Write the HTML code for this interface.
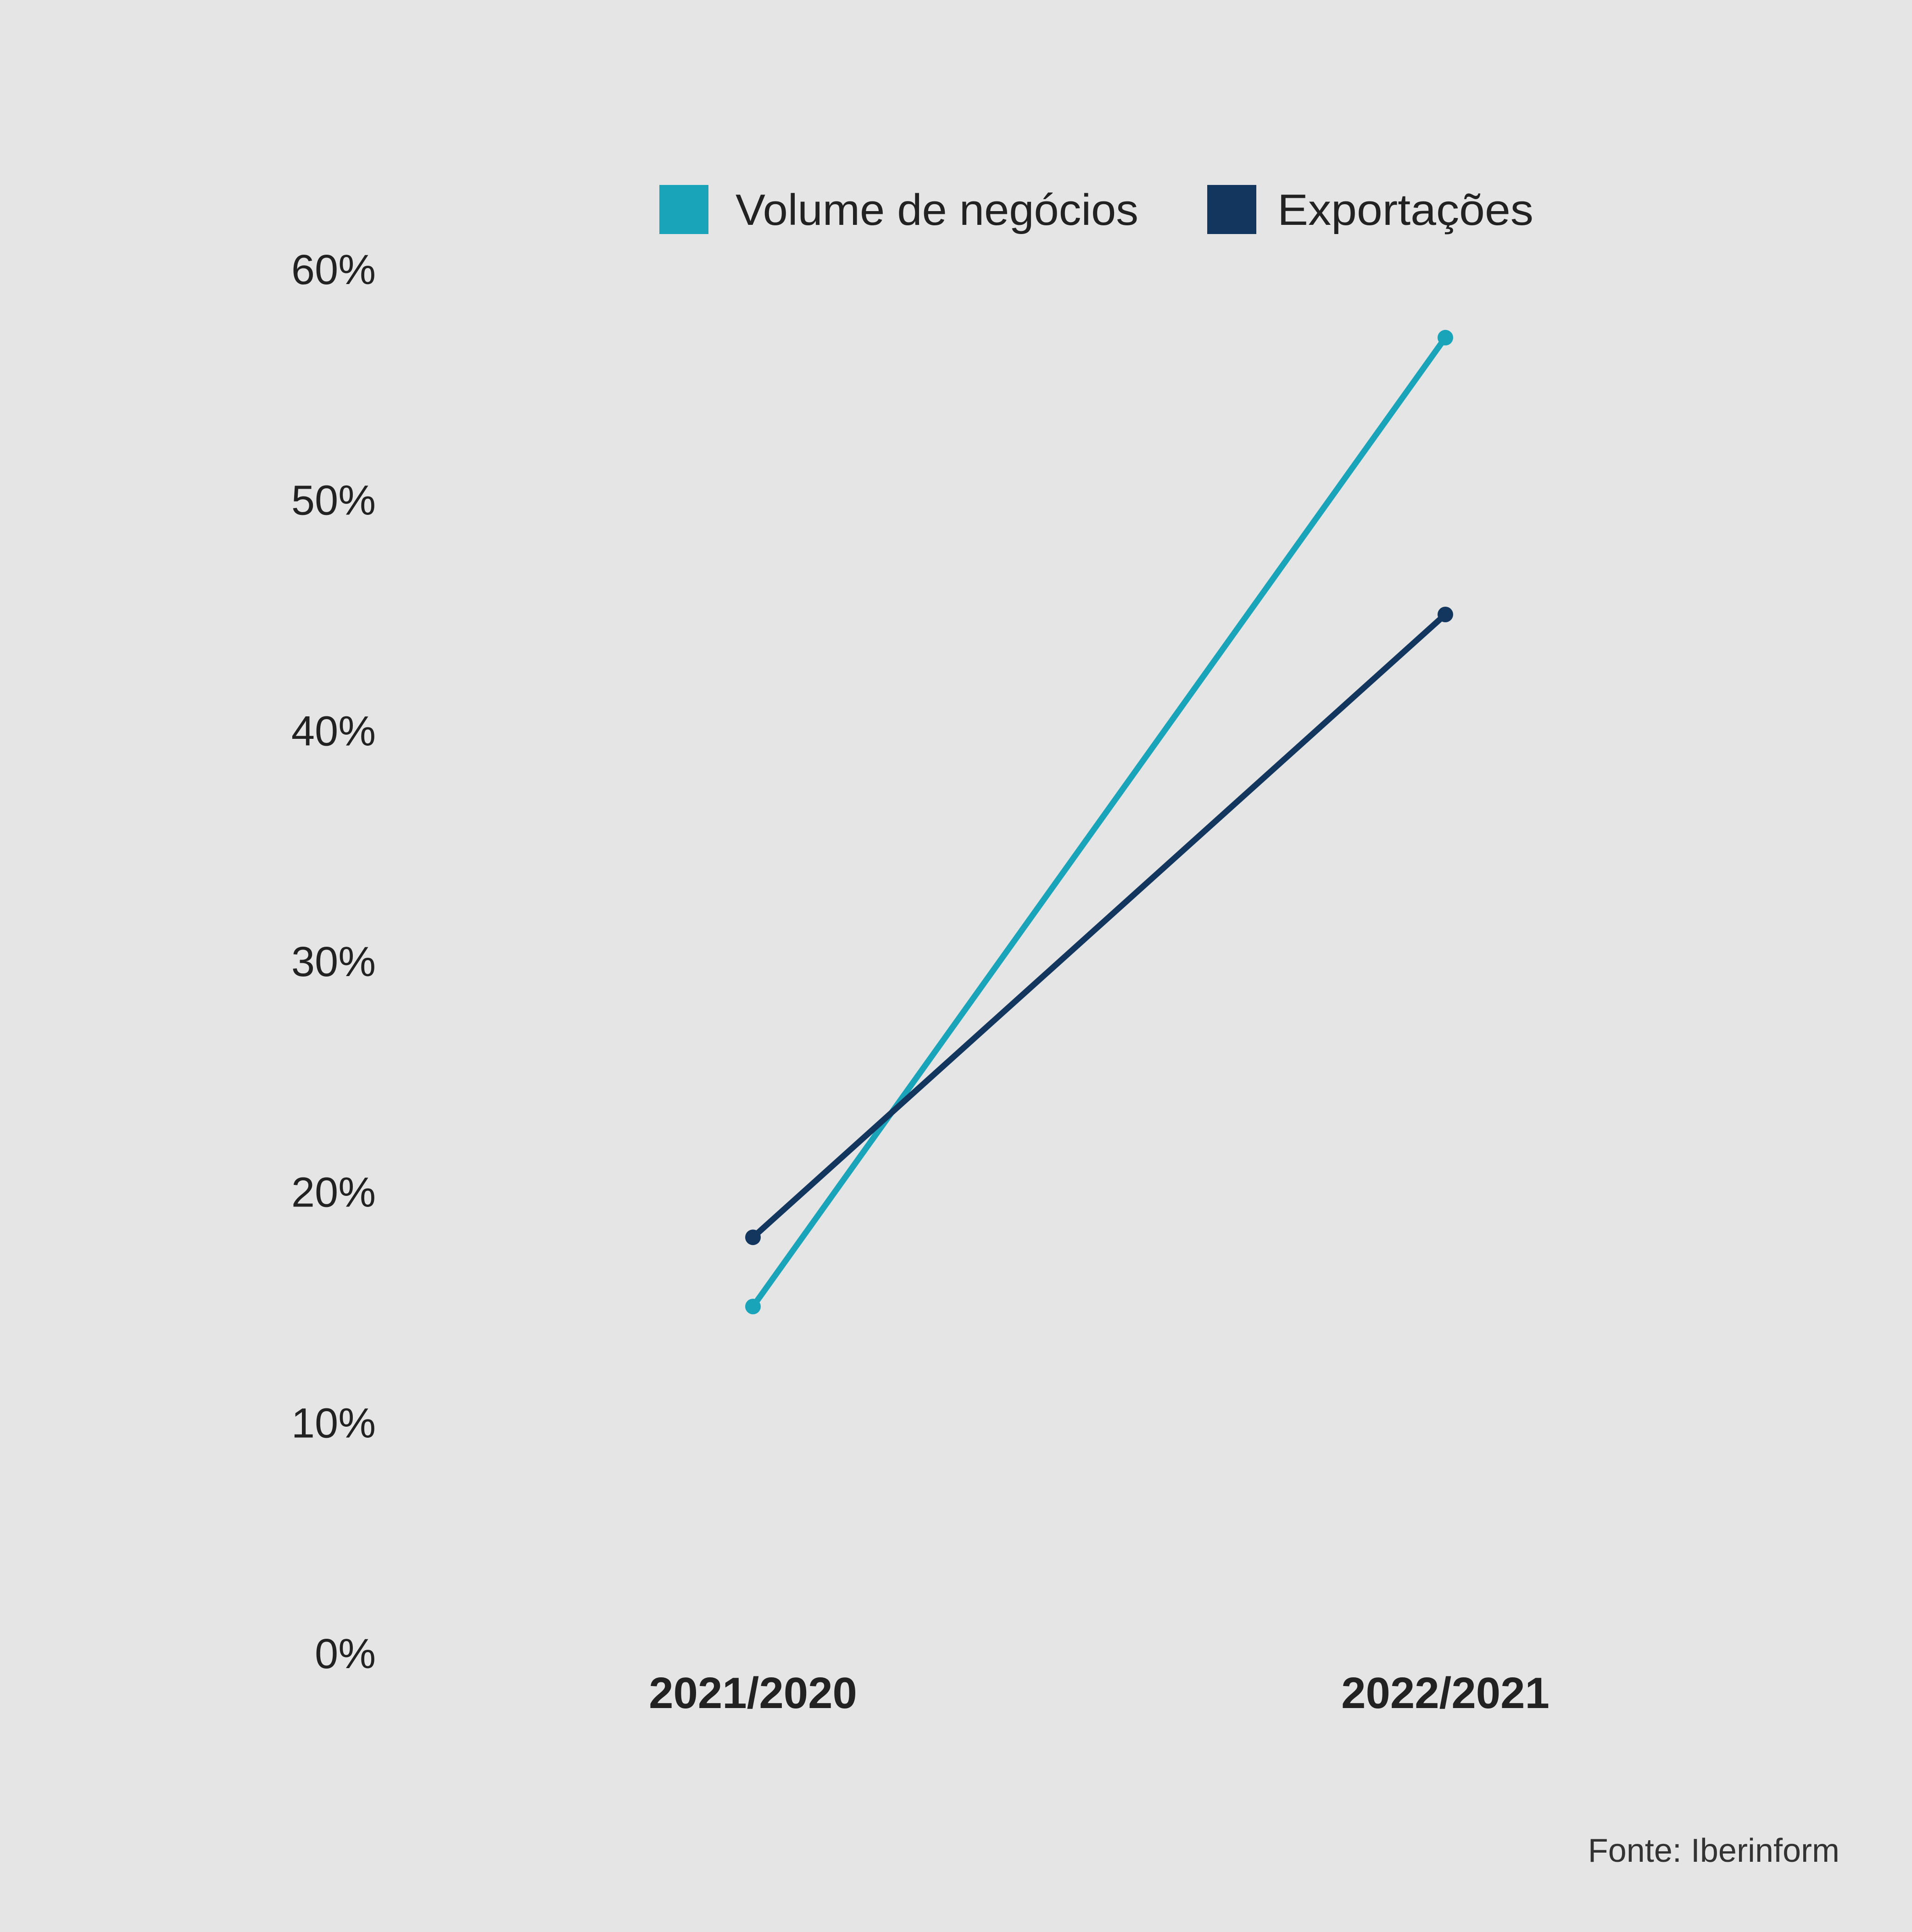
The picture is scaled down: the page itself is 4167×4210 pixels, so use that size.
<!DOCTYPE html>
<html><head><meta charset="utf-8">
<style>
html,body{margin:0;padding:0;background:#e5e5e5;}
svg{display:block;font-family:"Liberation Sans",sans-serif;}
</style></head>
<body>
<svg id="chart" width="4167" height="4210" viewBox="0 0 4167 4210" xmlns="http://www.w3.org/2000/svg">
<rect width="4167" height="4210" fill="#e5e5e5"/>
<g>
  <rect x="1437" y="403" width="107" height="107" fill="#19a4ba"/>
  <text x="1603" y="490" font-size="96" fill="#222" textLength="878" lengthAdjust="spacingAndGlyphs">Volume de negócios</text>
  <rect x="2631" y="403" width="107" height="107" fill="#13365f"/>
  <text x="2784" y="490" font-size="96" fill="#222" textLength="558" lengthAdjust="spacingAndGlyphs">Exportações</text>
</g>
<g id="yaxis"></g>
<g id="xaxis"></g>
<g id="series"></g>
<text x="4009" y="4057" font-size="72" fill="#333" text-anchor="end">Fonte: Iberinform</text>
</svg>
<script>
const categories = ["2021/2020", "2022/2021"];
const volumeValues = [15, 57];
const exportValues = [18, 45];
const yTicks = [0, 10, 20, 30, 40, 50, 60];
const yTickLabels = ["0%", "10%", "20%", "30%", "40%", "50%", "60%"];

const NS = "http://www.w3.org/2000/svg";
const y0 = 3601, y60 = 585;
function yScale(v){ return y0 - (v/60)*(y0-y60); }
const xStart = 1641, xStep = 1509;
function xScale(i){ return xStart + i*xStep; }
function mk(tag, attrs, parent){
  const el = document.createElementNS(NS, tag);
  for (const k in attrs) el.setAttribute(k, attrs[k]);
  parent.appendChild(el);
  return el;
}
const yaxis = document.getElementById('yaxis');
yTicks.forEach((t, i) => {
  const el = mk('text', {x: 819, y: yScale(t) + 34, 'font-size': 92, fill: '#222', 'text-anchor': 'end'}, yaxis);
  
  
  el.textContent = yTickLabels[i];
});
const xaxis = document.getElementById('xaxis');
categories.forEach((c, i) => {
  const el = mk('text', {x: xScale(i), y: 3722, 'font-size': 96, 'font-weight': 'bold', fill: '#222', 'text-anchor': 'middle'}, xaxis);
  
  
  el.textContent = c;
});
const series = document.getElementById('series');
function drawSeries(vals, color, name){
  const pts = vals.map((v, i) => xScale(i) + ',' + yScale(v)).join(' ');
  const line = mk('polyline', {points: pts, fill: 'none', stroke: color, 'stroke-width': 13}, series);
  
  
  vals.forEach((v, i) => {
    const p = mk('circle', {cx: xScale(i), cy: yScale(v), r: 17, fill: color}, series);
    
    
  });
}
drawSeries(volumeValues, '#19a4ba', 'volume');
drawSeries(exportValues, '#13365f', 'exportacoes');
</script>
</body></html>
